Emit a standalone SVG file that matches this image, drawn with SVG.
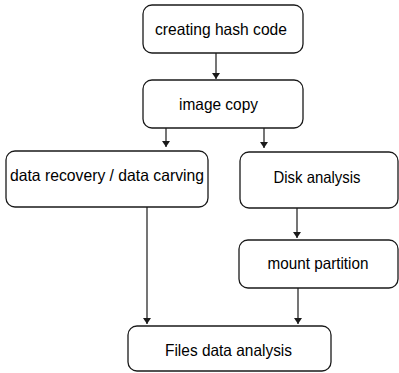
<svg xmlns="http://www.w3.org/2000/svg" width="399" height="373" viewBox="0 0 399 373">
<style>
.box{fill:#fff;stroke:#1a1a1a;stroke-width:1.3}
.lbl{font-family:"Liberation Sans",Arial,sans-serif;font-size:16.5px;fill:#000;text-anchor:middle;dominant-baseline:central}
.con{stroke:#1a1a1a;stroke-width:1.2;fill:none;marker-end:url(#ah)}
</style>
<defs>
<marker id="ah" viewBox="0 0 6 8" refX="6" refY="4" markerWidth="6" markerHeight="8" markerUnits="userSpaceOnUse" orient="auto">
<path d="M0,0 L6,4 L0,8 Z" fill="#1a1a1a"/>
</marker>
</defs>
<rect width="399" height="373" fill="#fff"/>
<g id="connectors">
<path class="con" d="M216,53 V79"/>
<path class="con" d="M166,128 V147"/>
<path class="con" d="M264,128 V148"/>
<path class="con" d="M147,207 V324"/>
<path class="con" d="M297,208 V238"/>
<path class="con" d="M298,288 V324"/>
</g>
<g id="n1"><rect class="box" x="143" y="5" width="160" height="48" rx="9"/><text class="lbl" x="221" y="28.5" textLength="132" lengthAdjust="spacingAndGlyphs">creating hash code</text></g>
<g id="n2"><rect class="box" x="143" y="80" width="160" height="48" rx="9"/><text class="lbl" x="218.5" y="104" textLength="79" lengthAdjust="spacingAndGlyphs">image copy</text></g>
<g id="n3"><rect class="box" x="6" y="151" width="202" height="56" rx="9"/><text class="lbl" x="107" y="174.5" textLength="194" lengthAdjust="spacingAndGlyphs">data recovery / data carving</text></g>
<g id="n4"><rect class="box" x="240" y="152" width="158" height="56" rx="9"/><text class="lbl" x="317" y="177" textLength="87" lengthAdjust="spacingAndGlyphs">Disk analysis</text></g>
<g id="n5"><rect class="box" x="239" y="240" width="159" height="48" rx="9"/><text class="lbl" x="318" y="263" textLength="101" lengthAdjust="spacingAndGlyphs">mount partition</text></g>
<g id="n6"><rect class="box" x="128" y="326" width="203" height="45" rx="9"/><text class="lbl" x="228.5" y="350" textLength="127" lengthAdjust="spacingAndGlyphs">Files data analysis</text></g>
</svg>
